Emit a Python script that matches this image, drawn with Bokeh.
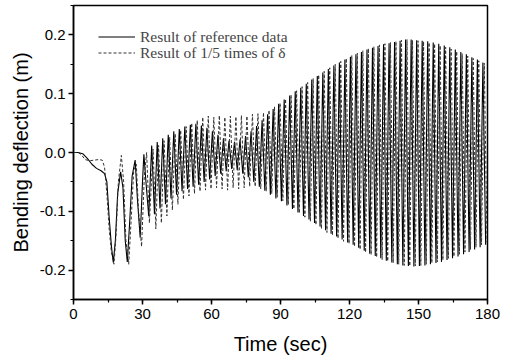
from bokeh.plotting import figure
from bokeh.models import Range1d, SingleIntervalTicker, Legend, LegendItem, PrintfTickFormatter
from bokeh.embed import file_html
from bokeh.resources import INLINE

# Reference data (solid): times (s) and bending deflection (m) at turning points
ref_t = [0, 2, 4, 6, 8, 10, 12, 13.5, 14.5, 15.5, 16.5, 17.3, 18.2, 19.2, 20.5, 21.5, 22.5, 23.4,
         24.4, 25.5, 26.8, 27.8, 29.0, 30.0, 30.6, 31.7, 32.7,
         34.0, 35.2, 36.4, 37.6, 38.8, 40.0, 41.2, 42.4, 43.6, 44.8, 46.0, 47.2, 48.4, 49.6,
         50.8, 52.0, 53.2, 54.4, 55.6, 56.8, 58.0, 59.2, 60.4, 61.6, 62.8, 64.0, 65.2, 66.4,
         67.6, 68.8, 70.0, 71.2, 72.4, 73.6, 74.8, 76.0, 77.2, 78.4, 79.6, 80.8, 82.0, 83.2,
         84.4, 85.6, 86.8, 88.0, 89.2, 90.4, 91.6, 92.8, 94.0, 95.2, 96.4, 97.6, 98.8, 100.0,
         101.2, 102.4, 103.6, 104.8, 106.0, 107.2, 108.4, 109.6, 110.8, 112.0, 113.2, 114.4,
         115.6, 116.8, 118.0, 119.2, 120.4, 121.6, 122.8, 124.0, 125.2, 126.4, 127.6, 128.8,
         130.0, 131.2, 132.4, 133.6, 134.8, 136.0, 137.2, 138.4, 139.6, 140.8, 142.0, 143.2,
         144.4, 145.6, 146.8, 148.0, 149.2, 150.4, 151.6, 152.8, 154.0, 155.2, 156.4, 157.6,
         158.8, 160.0, 161.2, 162.4, 163.6, 164.8, 166.0, 167.2, 168.4, 169.6, 170.8, 172.0,
         173.2, 174.4, 175.6, 176.8, 178.0, 179.2]
ref_v = [0.0, 0.0, -0.002, -0.01, -0.02, -0.027, -0.031, -0.036, -0.05, -0.11, -0.16, -0.187, -0.15, -0.07, -0.033, -0.06, -0.15, -0.186,
         -0.12, -0.04, -0.013, -0.08, -0.145, -0.05, -0.003, -0.06, -0.108,
         0.012, -0.105, 0.018, -0.095, 0.024, -0.088, 0.03, -0.078, 0.036, -0.072, 0.04, -0.066, 0.044, -0.062,
         0.047, -0.058, 0.049, -0.055, 0.046, -0.05, 0.042, -0.046, 0.036, -0.04, 0.03, -0.036, 0.024, -0.032,
         0.02, -0.028, 0.018, -0.03, 0.022, -0.036, 0.028, -0.042, 0.036, -0.05, 0.045, -0.058, 0.055, -0.065,
         0.065, -0.072, 0.074, -0.078, 0.083, -0.083, 0.09, -0.09, 0.097, -0.096, 0.104, -0.102, 0.11, -0.108,
         0.117, -0.114, 0.124, -0.12, 0.13, -0.126, 0.136, -0.132, 0.142, -0.138, 0.148, -0.143,
         0.153, -0.148, 0.158, -0.153, 0.163, -0.157, 0.167, -0.162, 0.171, -0.167, 0.175, -0.172,
         0.178, -0.176, 0.181, -0.18, 0.184, -0.184, 0.186, -0.187, 0.188, -0.19, 0.19, -0.192,
         0.192, -0.193, 0.192, -0.194, 0.191, -0.193, 0.19, -0.192, 0.189, -0.19, 0.187, -0.188,
         0.185, -0.186, 0.182, -0.183, 0.179, -0.18, 0.175, -0.177, 0.171, -0.173, 0.167, -0.169,
         0.162, -0.165, 0.158, -0.161, 0.153, -0.157]

# 1/5 times of delta (dashed)
alt_t = [0, 2, 3.5, 5, 7, 9, 11, 12.5, 13.5, 14.5, 15.5, 16.5, 17.6, 18.5, 19.5, 20.8, 21.8, 22.8, 24.0,
         25.0, 26.2, 27.3, 28.3, 29.6, 30.8, 31.8, 33.0,
         34.6, 35.8, 37.0, 38.2, 39.4, 40.6, 41.8, 43.0, 44.2, 45.4, 46.6, 47.8, 49.0, 50.2,
         51.4, 52.6, 53.8, 55.0, 56.2, 57.4, 58.6, 59.8, 61.0, 62.2, 63.4, 64.6, 65.8, 67.0,
         68.2, 69.4, 70.6, 71.8, 73.0, 74.2, 75.4, 76.6, 77.8, 79.0, 80.2, 81.4, 82.6, 83.8,
         85.0, 86.2, 87.4, 88.6, 89.8, 91.0, 92.2, 93.4, 94.6, 95.8, 97.0, 98.2, 99.4, 100.6,
         101.8, 103.0, 104.2, 105.4, 106.6, 107.8, 109.0, 110.2, 111.4, 112.6, 113.8, 115.0,
         116.2, 117.4, 118.6, 119.8, 121.0, 122.2, 123.4, 124.6, 125.8, 127.0, 128.2, 129.4,
         130.6, 131.8, 133.0, 134.2, 135.4, 136.6, 137.8, 139.0, 140.2, 141.4, 142.6, 143.8,
         145.0, 146.2, 147.4, 148.6, 149.8, 151.0, 152.2, 153.4, 154.6, 155.8, 157.0, 158.2,
         159.4, 160.6, 161.8, 163.0, 164.2, 165.4, 166.6, 167.8, 169.0, 170.2, 171.4, 172.6,
         173.8, 175.0, 176.2, 177.4, 178.6, 179.8]
alt_v = [0.0, 0.0, -0.004, -0.012, -0.014, -0.013, -0.012, -0.013, -0.025, -0.07, -0.13, -0.17, -0.19, -0.14, -0.05, -0.005, -0.05, -0.15, -0.19,
         -0.12, -0.03, -0.02, -0.1, -0.16, -0.04, 0.0, -0.12,
         0.006, -0.13, 0.012, -0.12, 0.02, -0.108, 0.026, -0.098, 0.032, -0.088, 0.038, -0.08, 0.044, -0.074,
         0.05, -0.07, 0.055, -0.066, 0.06, -0.064, 0.062, -0.062, 0.06, -0.06, 0.063, -0.062, 0.06, -0.064,
         0.062, -0.06, 0.061, -0.062, 0.063, -0.06, 0.062, -0.058, 0.065, -0.058, 0.066, -0.062, 0.068, -0.066,
         0.072, -0.07, 0.078, -0.076, 0.084, -0.082, 0.091, -0.089, 0.098, -0.096, 0.105, -0.103, 0.112, -0.11,
         0.119, -0.117, 0.126, -0.123, 0.132, -0.13, 0.138, -0.136, 0.144, -0.141, 0.15, -0.146,
         0.155, -0.151, 0.16, -0.155, 0.165, -0.16, 0.169, -0.165, 0.173, -0.17, 0.177, -0.174,
         0.18, -0.178, 0.183, -0.182, 0.185, -0.185, 0.187, -0.188, 0.189, -0.19, 0.191, -0.192,
         0.192, -0.193, 0.191, -0.193, 0.19, -0.192, 0.189, -0.19, 0.187, -0.188, 0.185, -0.186,
         0.182, -0.183, 0.179, -0.18, 0.176, -0.177, 0.172, -0.173, 0.168, -0.169, 0.164, -0.165,
         0.16, -0.161, 0.156, -0.157, 0.152, -0.153]

legend_labels = ["Result of reference data", "Result of 1/5 times of \u03b4"]
x_label = "Time (sec)"
y_label = "Bending deflection (m)"

p = figure(width=506, height=362, output_backend="svg", toolbar_location=None,
           x_range=Range1d(0, 180), y_range=Range1d(-0.25, 0.25),
           min_border_left=73, min_border_right=19, min_border_top=5, min_border_bottom=63)
p.background_fill_color = "white"
p.border_fill_color = "white"
p.grid.visible = False
p.outline_line_color = "black"
p.outline_line_width = 1.5

r1 = p.line(ref_t, ref_v, line_color="black", line_width=1.1)
r2 = p.line(alt_t, alt_v, line_color="#333333", line_width=1.0, line_dash="3 2")

p.xaxis.ticker = SingleIntervalTicker(interval=30, num_minor_ticks=2)
p.yaxis.ticker = SingleIntervalTicker(interval=0.1, num_minor_ticks=2)
p.yaxis.formatter = PrintfTickFormatter(format="%.1f")

for ax in (p.xaxis[0], p.yaxis[0]):
    ax.axis_line_width = 1.5
    ax.major_tick_line_width = 1.5
    ax.minor_tick_line_width = 1.2
    ax.major_tick_in = 0
    ax.major_tick_out = 5
    ax.minor_tick_in = 0
    ax.minor_tick_out = 3
    ax.major_label_text_font = "Liberation Sans"
    ax.major_label_text_font_size = "15px"
    ax.major_label_text_color = "black"
    ax.axis_label_text_font = "Liberation Sans"
    ax.axis_label_text_font_size = "20px"
    ax.axis_label_text_font_style = "normal"
    ax.axis_label_text_color = "black"

p.xaxis.axis_label = x_label
p.yaxis.axis_label = y_label
p.xaxis.major_label_standoff = 4
p.xaxis.axis_label_standoff = 11
p.yaxis.major_label_standoff = 3
p.yaxis.axis_label_standoff = 5

common = dict(border_line_color=None, background_fill_alpha=0, padding=0, margin=0,
              spacing=0, glyph_width=37, glyph_height=21, label_standoff=5,
              label_text_font="Liberation Serif", label_text_font_size="15.5px",
              label_height=21)
leg1 = Legend(items=[LegendItem(label=legend_labels[0], renderers=[r1])],
              location=(25, 252), **common)
leg2 = Legend(items=[LegendItem(label=legend_labels[1], renderers=[r2])],
              location=(25, 236), **common)
p.add_layout(leg1)
p.add_layout(leg2)

open("out.html", "w").write(file_html(p, INLINE))
